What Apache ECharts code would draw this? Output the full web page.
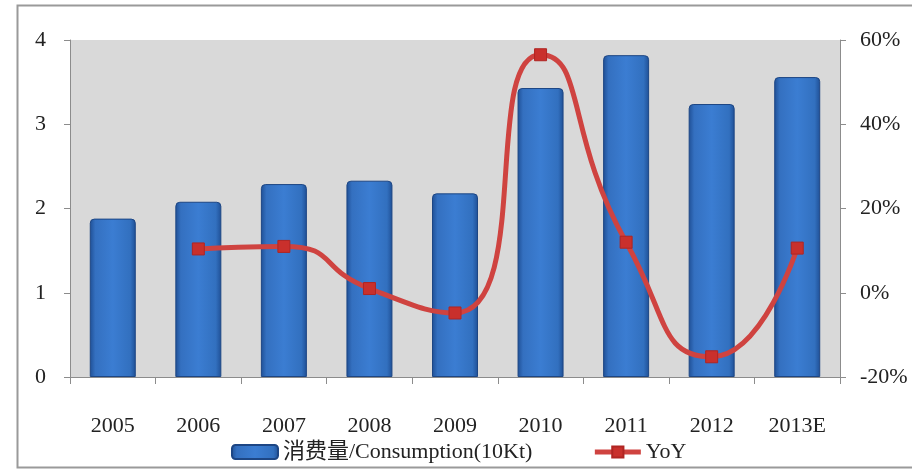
<!DOCTYPE html>
<html>
<head>
<meta charset="utf-8">
<script src="https://cdn.jsdelivr.net/npm/echarts@6/dist/echarts.min.js"></script>
<style>
  html, body { margin: 0; padding: 0; background: #fff; }
  #chart { width: 912px; height: 474px; }
</style>
</head>
<body>
<div id="chart"></div>
<script>
  // 年份
  var years = ['2005', '2006', '2007', '2008', '2009', '2010', '2011', '2012', '2013E'];
  // 消费量 (10Kt)
  var consumption = [1.88, 2.08, 2.29, 2.33, 2.18, 3.43, 3.82, 3.24, 3.56];
  // 同比 (%)
  var yoy = [null, 10.4, 11.0, 1.0, -4.8, 56.5, 12.0, -15.2, 10.6];

  var serif = '"Liberation Serif", "Noto Sans CJK SC", serif';
  var axisGrey = '#8c8c8c';

  var chart = echarts.init(document.getElementById('chart'));

  var barColor = new echarts.graphic.LinearGradient(0, 0, 1, 0, [
    { offset: 0, color: '#1f4f95' },
    { offset: 0.12, color: '#3470c0' },
    { offset: 0.5, color: '#3b7dd2' },
    { offset: 0.88, color: '#3270bf' },
    { offset: 1, color: '#1f4f95' }
  ]);

  chart.setOption({
    backgroundColor: '#fff',
    animation: false,
    graphic: [{
      type: 'rect',
      shape: { x: 17.5, y: 5.5, width: 920, height: 462 },
      style: { fill: 'none', stroke: '#9a9a9a', lineWidth: 2 },
      silent: true
    }],
    grid: {
      left: 70,
      right: 72,
      top: 40,
      bottom: 97,
      show: true,
      backgroundColor: '#d9d9d9',
      borderWidth: 0
    },
    legend: {
      bottom: 6,
      left: 226,
      itemGap: 60,
      itemWidth: 46,
      itemHeight: 14,
      textStyle: { fontFamily: serif, fontSize: 22, color: '#222' },
      data: [
        { name: '消费量/Consumption(10Kt)', icon: 'roundRect' },
        { name: 'YoY', lineStyle: { width: 5 } }
      ]
    },
    xAxis: {
      type: 'category',
      data: years,
      boundaryGap: true,
      axisLine: { lineStyle: { color: axisGrey, width: 1 } },
      axisTick: { show: true, length: 7, lineStyle: { color: axisGrey } },
      axisLabel: { fontFamily: serif, fontSize: 22, color: '#222', margin: 38 }
    },
    yAxis: [{
      type: 'value',
      min: 0,
      max: 4,
      interval: 1,
      axisLine: { show: true, lineStyle: { color: axisGrey } },
      axisTick: { show: true, length: 6, lineStyle: { color: axisGrey } },
      splitLine: { show: false },
      axisLabel: { fontFamily: serif, fontSize: 22, color: '#222', margin: 24 }
    }, {
      type: 'value',
      min: -20,
      max: 60,
      interval: 20,
      position: 'right',
      axisLine: { show: true, lineStyle: { color: axisGrey } },
      axisTick: { show: true, length: 6, lineStyle: { color: axisGrey } },
      splitLine: { show: false },
      axisLabel: {
        fontFamily: serif, fontSize: 22, color: '#222', margin: 20,
        formatter: '{value}%'
      }
    }],
    series: [{
      name: '消费量/Consumption(10Kt)',
      type: 'bar',
      barWidth: 46,
      data: consumption,
      itemStyle: {
        color: barColor,
        borderColor: '#1d4684',
        borderWidth: 1,
        borderRadius: [4, 4, 0, 0]
      }
    }, {
      name: 'YoY',
      type: 'line',
      yAxisIndex: 1,
      smooth: 0.6,
      connectNulls: false,
      data: yoy,
      symbol: 'rect',
      symbolSize: 12,
      lineStyle: { color: '#cf4340', width: 5 },
      itemStyle: { color: '#c9302c', borderColor: '#b02522', borderWidth: 1 }
    }]
  });
</script>
</body>
</html>
